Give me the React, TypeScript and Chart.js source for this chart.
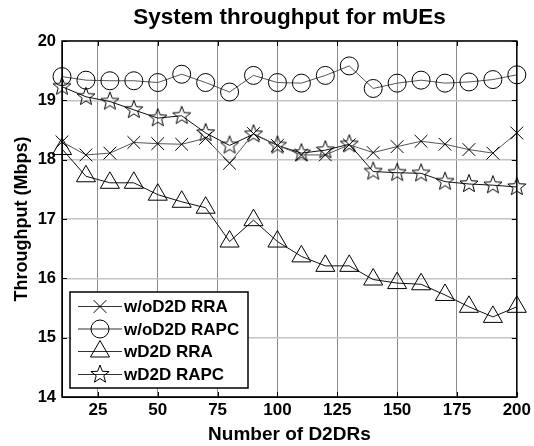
import React, { useEffect, useRef } from 'react';
import { Chart, registerables } from 'chart.js';

Chart.register(...registerables);

const FONT = '"Liberation Sans", Arial, sans-serif';

const xValues = [10, 20, 30, 40, 50, 60, 70, 80, 90, 100, 110, 120, 130, 140, 150, 160, 170, 180, 190, 200];
const xTicks = [25, 50, 75, 100, 125, 150, 175, 200];
const yTicks = [14, 15, 16, 17, 18, 19, 20];

const seriesNames = ['w/oD2D RRA', 'w/oD2D RAPC', 'wD2D RRA', 'wD2D RAPC'];
const woD2dRra = [18.30, 18.08, 18.11, 18.29, 18.27, 18.26, 18.36, 17.94, 18.44, 18.24, 18.08, 18.08, 18.25, 18.12, 18.22, 18.31, 18.26, 18.17, 18.11, 18.45];
const woD2dRapc = [19.40, 19.34, 19.33, 19.33, 19.30, 19.44, 19.30, 19.14, 19.42, 19.30, 19.29, 19.42, 19.58, 19.20, 19.29, 19.34, 19.29, 19.31, 19.35, 19.43];
const wD2dRra = [18.18, 17.72, 17.61, 17.61, 17.41, 17.29, 17.19, 16.62, 16.98, 16.62, 16.37, 16.21, 16.21, 15.98, 15.92, 15.90, 15.72, 15.52, 15.35, 15.52];
const wD2dRapc = [19.23, 19.06, 18.98, 18.84, 18.70, 18.74, 18.45, 18.24, 18.43, 18.24, 18.11, 18.16, 18.26, 17.80, 17.78, 17.77, 17.63, 17.59, 17.57, 17.54];

const STAR_R = 9.5;
const STAR_RATIO = 0.42;

function drawStar(ctx: CanvasRenderingContext2D, cx: number, cy: number, R: number) {
  const r = R * STAR_RATIO;
  ctx.beginPath();
  for (let i = 0; i < 10; i++) {
    const a = -Math.PI / 2 + (i * Math.PI) / 5;
    const rad = i % 2 === 0 ? R : r;
    const x = cx + rad * Math.cos(a);
    const y = cy + rad * Math.sin(a);
    if (i === 0) ctx.moveTo(x, y);
    else ctx.lineTo(x, y);
  }
  ctx.closePath();
  ctx.strokeStyle = '#000';
  ctx.lineWidth = 1;
  ctx.stroke();
}

function makeStarImage() {
  const c = document.createElement('canvas');
  c.width = 24;
  c.height = 24;
  const ctx = c.getContext('2d')!;
  drawStar(ctx, 12, 12, STAR_R);
  return c;
}

function drawMarker(ctx: CanvasRenderingContext2D, kind: number, x: number, y: number) {
  ctx.save();
  ctx.strokeStyle = '#000';
  ctx.lineWidth = 1;
  ctx.beginPath();
  if (kind === 0) {
    const d = 9 * Math.SQRT1_2;
    ctx.moveTo(x - d, y - d);
    ctx.lineTo(x + d, y + d);
    ctx.moveTo(x + d, y - d);
    ctx.lineTo(x - d, y + d);
    ctx.stroke();
  } else if (kind === 1) {
    ctx.arc(x, y, 9, 0, Math.PI * 2);
    ctx.stroke();
  } else if (kind === 2) {
    const r = 11;
    let rad = 0;
    ctx.moveTo(x + Math.sin(rad) * r, y - Math.cos(rad) * r);
    rad += (2 * Math.PI) / 3;
    ctx.lineTo(x + Math.sin(rad) * r, y - Math.cos(rad) * r);
    rad += (2 * Math.PI) / 3;
    ctx.lineTo(x + Math.sin(rad) * r, y - Math.cos(rad) * r);
    ctx.closePath();
    ctx.stroke();
  } else {
    drawStar(ctx, x, y, STAR_R);
  }
  ctx.restore();
}

const framePlugin = {
  id: 'matlabFrame',
  afterDraw(chart: any) {
    const { ctx, chartArea } = chart;
    const { left, right, top, bottom } = chartArea;
    const xs = chart.scales.x;
    const ys = chart.scales.y;
    ctx.save();
    ctx.strokeStyle = '#000';
    ctx.lineWidth = 1;
    ctx.beginPath();
    xTicks.forEach((v) => {
      const px = Math.round(xs.getPixelForValue(v)) + 0.5;
      ctx.moveTo(px, bottom);
      ctx.lineTo(px, bottom - 5);
      ctx.moveTo(px, top);
      ctx.lineTo(px, top + 5);
    });
    yTicks.forEach((v) => {
      const py = Math.round(ys.getPixelForValue(v)) + 0.5;
      ctx.moveTo(left, py);
      ctx.lineTo(left + 5, py);
      ctx.moveTo(right, py);
      ctx.lineTo(right - 5, py);
    });
    ctx.stroke();
    ctx.lineWidth = 1.5;
    ctx.strokeRect(left, top, right - left, bottom - top);

    // legend
    const bx = 70, by = 292, bw = 178, bh = 96;
    ctx.fillStyle = '#fff';
    ctx.fillRect(bx, by, bw, bh);
    ctx.lineWidth = 1.5;
    ctx.strokeStyle = '#000';
    ctx.strokeRect(bx, by, bw, bh);
    const rows = [306.5, 329, 351.5, 374.5];
    ctx.font = `bold 17px ${FONT}`;
    ctx.textBaseline = 'middle';
    ctx.textAlign = 'left';
    seriesNames.forEach((name, i) => {
      const y = rows[i];
      ctx.beginPath();
      ctx.lineWidth = 1;
      ctx.strokeStyle = '#333';
      ctx.moveTo(78, y);
      ctx.lineTo(122, y);
      ctx.stroke();
      drawMarker(ctx, i, 100, y);
      ctx.fillStyle = '#000';
      ctx.fillText(name, 124, y + 1);
    });
    ctx.restore();
  },
};

export default function App() {
  const ref = useRef<HTMLCanvasElement>(null);
  useEffect(() => {
    const star = makeStarImage();
    const mk = (vals: number[]) => xValues.map((x, i) => ({ x, y: vals[i] }));
    const common = {
      borderWidth: 1,
      pointBorderColor: '#000',
      pointBackgroundColor: 'rgba(0,0,0,0)',
      pointBorderWidth: 1,
      clip: false as any,
      fill: false,
    };
    const chart = new Chart(ref.current!, {
      type: 'line',
      data: {
        datasets: [
          { ...common, label: seriesNames[0], data: mk(woD2dRra), borderColor: '#555', pointStyle: 'crossRot', pointRadius: 9 },
          { ...common, label: seriesNames[1], data: mk(woD2dRapc), borderColor: '#555', pointStyle: 'circle', pointRadius: 9 },
          { ...common, label: seriesNames[2], data: mk(wD2dRra), borderColor: '#111', pointStyle: 'triangle', pointRadius: 11 },
          { ...common, label: seriesNames[3], data: mk(wD2dRapc), borderColor: '#111', pointStyle: star as any, pointRadius: 9 },
        ],
      },
      options: {
        responsive: false,
        animation: false,
        layout: { padding: { left: 0, right: 15, top: 0, bottom: 0 } },
        plugins: {
          legend: { display: false },
          tooltip: { enabled: false },
          title: {
            display: true,
            text: 'System throughput for mUEs',
            color: '#000',
            font: { family: FONT, size: 22.5, weight: 'bold', lineHeight: 1.2 },
            padding: { top: 4.5, bottom: 9.5 },
            fullSize: false,
          },
        },
        scales: {
          x: {
            type: 'linear',
            min: 10,
            max: 200,
            afterFit: (s: any) => { s.height = 49; },
            afterBuildTicks: (s: any) => { s.ticks = xTicks.map((v) => ({ value: v })); },
            ticks: {
              color: '#000',
              font: { family: FONT, size: 17, weight: 'bold' },
              padding: 3,
              maxRotation: 0,
              autoSkip: false,
              callback: (v: any) => String(v),
            },
            grid: { color: '#8a8a8a', lineWidth: 1, drawTicks: false },
            border: { display: true, color: '#000', width: 1 },
            title: {
              display: true,
              text: 'Number of D2DRs',
              color: '#000',
              font: { family: FONT, size: 19, weight: 'bold' },
              padding: { top: 0, bottom: 0 },
            },
          },
          y: {
            type: 'linear',
            min: 14,
            max: 20,
            afterFit: (s: any) => { s.width = 62; },
            afterBuildTicks: (s: any) => { s.ticks = yTicks.map((v) => ({ value: v })); },
            ticks: {
              color: '#000',
              font: { family: FONT, size: 16.5, weight: 'bold' },
              padding: 6,
              autoSkip: false,
              callback: (v: any) => String(v),
            },
            grid: { color: '#c4c4c4', lineWidth: 1.5, drawTicks: false },
            border: { display: true, color: '#000', width: 1 },
            title: {
              display: true,
              text: 'Throughput (Mbps)',
              color: '#000',
              font: { family: FONT, size: 18, weight: 'bold' },
              padding: { top: 11, bottom: 0 },
            },
          },
        },
      },
      plugins: [framePlugin],
    });
    return () => chart.destroy();
  }, []);
  return (
    <div style={{ position: 'fixed', left: 0, top: 0, width: 534, height: 446, background: '#fff' }}>
      <canvas ref={ref} width={534} height={446} style={{ display: 'block', width: 534, height: 446 }} />
    </div>
  );
}
